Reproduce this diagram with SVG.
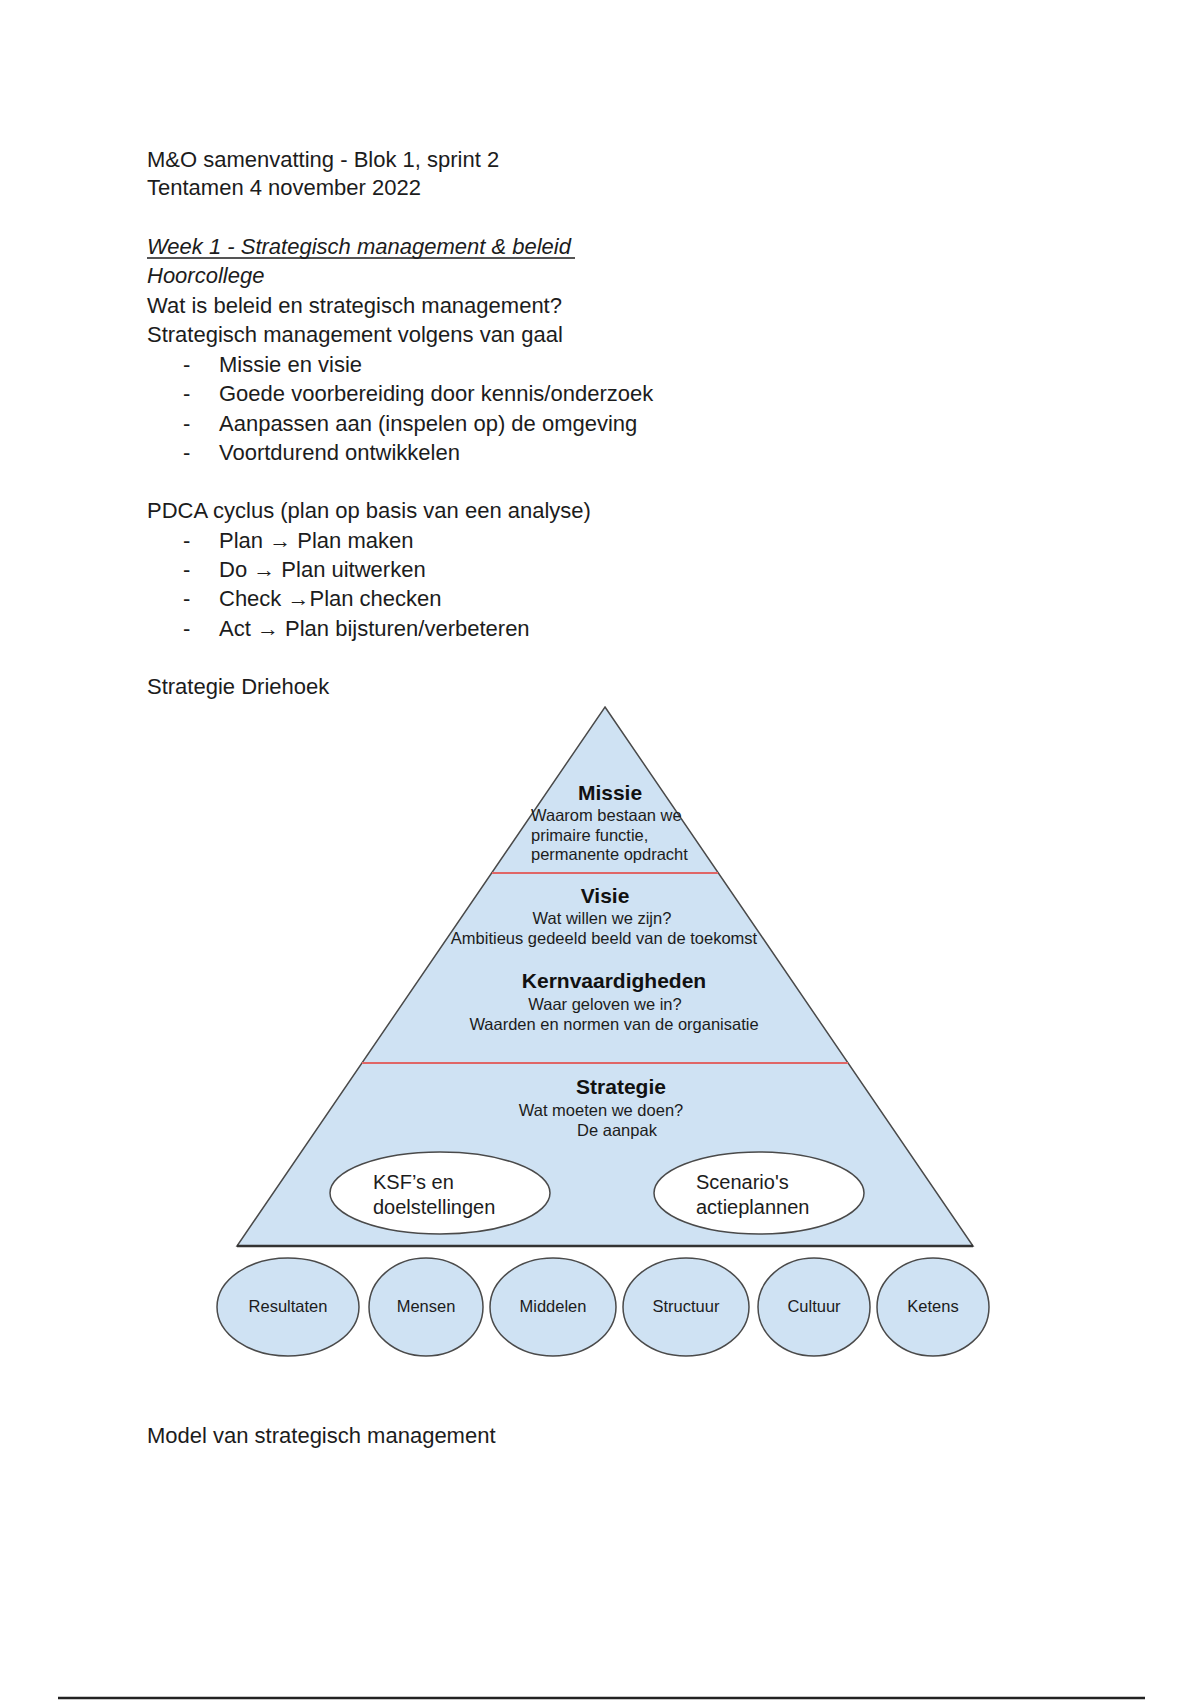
<svg xmlns="http://www.w3.org/2000/svg" width="1200" height="1700" viewBox="0 0 1200 1700">
<style>
.body{font-family:"Liberation Sans",Arial,sans-serif;font-size:22px;fill:#1c1c1c}
.it{font-style:italic}
.h{font-family:"Liberation Sans",Arial,sans-serif;font-size:21px;font-weight:bold;fill:#111;text-anchor:middle}
.s{font-family:"Liberation Sans",Arial,sans-serif;font-size:16.5px;fill:#1c1c1c}
.c{text-anchor:middle}
.el{font-family:"Liberation Sans",Arial,sans-serif;font-size:20px;fill:#1c1c1c}
.shape{fill:#cfe2f3;stroke:#4a4a4a;stroke-width:1.5}
.white{fill:#ffffff;stroke:#4a4a4a;stroke-width:1.5}
.red{stroke:#e06666;stroke-width:2}
</style>
<rect width="1200" height="1700" fill="#ffffff"/>
<g id="text">
<text class="body" x="147" y="167">M&amp;O samenvatting - Blok 1, sprint 2</text>
<text class="body" x="147" y="195">Tentamen 4 november 2022</text>
<text class="body it" x="147" y="254">Week 1 - Strategisch management &amp; beleid</text>
<line x1="147" y1="258" x2="575" y2="258" stroke="#1c1c1c" stroke-width="1.6"/>
<text class="body it" x="147" y="283">Hoorcollege</text>
<text class="body" x="147" y="313">Wat is beleid en strategisch management?</text>
<text class="body" x="147" y="342">Strategisch management volgens van gaal</text>
<text class="body" x="183" y="372">-</text><text class="body" x="219" y="372">Missie en visie</text>
<text class="body" x="183" y="401">-</text><text class="body" x="219" y="401">Goede voorbereiding door kennis/onderzoek</text>
<text class="body" x="183" y="431">-</text><text class="body" x="219" y="431">Aanpassen aan (inspelen op) de omgeving</text>
<text class="body" x="183" y="460">-</text><text class="body" x="219" y="460">Voortdurend ontwikkelen</text>
<text class="body" x="147" y="518">PDCA cyclus (plan op basis van een analyse)</text>
<text class="body" x="183" y="548">-</text><text class="body" x="219" y="548">Plan → Plan maken</text>
<text class="body" x="183" y="577">-</text><text class="body" x="219" y="577">Do → Plan uitwerken</text>
<text class="body" x="183" y="606">-</text><text class="body" x="219" y="606">Check →Plan checken</text>
<text class="body" x="183" y="636">-</text><text class="body" x="219" y="636">Act → Plan bijsturen/verbeteren</text>
<text class="body" x="147" y="694">Strategie Driehoek</text>
<text class="body" x="147" y="1443">Model van strategisch management</text>
</g>
<g id="pyramid">
<polygon class="shape" points="605,707 973,1246 237,1246"/>
<line x1="237" y1="1246" x2="973" y2="1246" stroke="#333" stroke-width="2.5"/>
<line class="red" x1="492" y1="873" x2="718" y2="873"/>
<line class="red" x1="362" y1="1063" x2="848" y2="1063"/>
</g>
<g id="missie">
<text class="h" x="610" y="800">Missie</text>
<text class="s" x="531" y="821">Waarom bestaan we</text>
<text class="s" x="531" y="841">primaire functie,</text>
<text class="s" x="531" y="860">permanente opdracht</text>
</g>
<g id="visie">
<text class="h" x="605" y="903">Visie</text>
<text class="s c" x="602" y="924">Wat willen we zijn?</text>
<text class="s c" x="604" y="944">Ambitieus gedeeld beeld van de toekomst</text>
</g>
<g id="kernvaardigheden">
<text class="h" x="614" y="988">Kernvaardigheden</text>
<text class="s c" x="605" y="1010">Waar geloven we in?</text>
<text class="s c" x="614" y="1030">Waarden en normen van de organisatie</text>
</g>
<g id="strategie">
<text class="h" x="621" y="1094">Strategie</text>
<text class="s c" x="601" y="1116">Wat moeten we doen?</text>
<text class="s c" x="617" y="1136">De aanpak</text>
</g>
<g id="ksf">
<ellipse class="white" cx="440" cy="1193" rx="110" ry="41"/>
<text class="el" x="373" y="1189">KSF’s en</text>
<text class="el" x="373" y="1214">doelstellingen</text>
</g>
<g id="scenarios">
<ellipse class="white" cx="759" cy="1193" rx="105" ry="41"/>
<text class="el" x="696" y="1189">Scenario's</text>
<text class="el" x="696" y="1214">actieplannen</text>
</g>
<g id="resultaten"><ellipse class="shape" cx="288" cy="1307" rx="71" ry="49"/><text class="s c" x="288" y="1312">Resultaten</text></g>
<g id="mensen"><ellipse class="shape" cx="426" cy="1307" rx="57" ry="49"/><text class="s c" x="426" y="1312">Mensen</text></g>
<g id="middelen"><ellipse class="shape" cx="553" cy="1307" rx="63" ry="49"/><text class="s c" x="553" y="1312">Middelen</text></g>
<g id="structuur"><ellipse class="shape" cx="686" cy="1307" rx="63" ry="49"/><text class="s c" x="686" y="1312">Structuur</text></g>
<g id="cultuur"><ellipse class="shape" cx="814" cy="1307" rx="56" ry="49"/><text class="s c" x="814" y="1312">Cultuur</text></g>
<g id="ketens"><ellipse class="shape" cx="933" cy="1307" rx="56" ry="49"/><text class="s c" x="933" y="1312">Ketens</text></g>
<g id="connectors"></g>
<line x1="58" y1="1698" x2="1145" y2="1698" stroke="#222" stroke-width="2.5"/>
</svg>
